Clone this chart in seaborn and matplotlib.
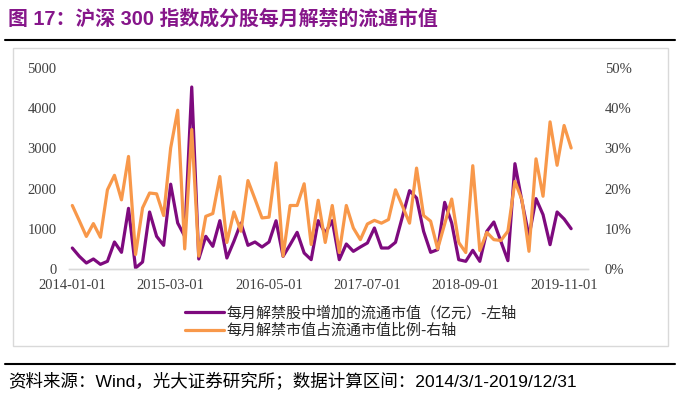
import numpy as np
import pandas as pd
import matplotlib
matplotlib.use("Agg")
import matplotlib.pyplot as plt
import seaborn as sns
from matplotlib.lines import Line2D
from matplotlib.patches import Rectangle
from matplotlib.ticker import FuncFormatter

# === DATA ===
months = pd.date_range("2014-01-01", "2019-12-01", freq="MS").strftime("%Y-%m-%d").tolist()

# 每月解禁股中增加的流通市值（亿元）
unlock_value = [522, 315, 149, 249, 116, 191, 672, 415, 1509, 25,
                174, 1418, 813, 589, 2110, 1144, 813, 4527, 249, 813,
                564, 1202, 274, 688, 1144, 589, 672, 547, 672, 1200,
                315, 605, 912, 398, 232, 1202, 896, 1202, 232, 622,
                439, 547, 647, 1020, 522, 522, 663, 1310, 1949, 1766,
                937, 415, 481, 1658, 1144, 232, 191, 464, 191, 937,
                1169, 688, 207, 2620, 1683, 813, 1750, 1352, 605, 1418,
                1244, 1003]

# 每月解禁市值占流通市值比例（%）
unlock_ratio = [15.8, 12.0, 8.1, 11.3, 7.9, 19.7, 23.3, 17.2, 28.0, 3.6,
                15.2, 18.9, 18.7, 13.3, 30.1, 39.5, 5.0, 34.7, 3.2, 13.1,
                13.8, 23.0, 6.6, 14.2, 9.4, 22.0, 17.4, 12.7, 12.9, 26.4,
                3.2, 15.8, 15.8, 21.2, 6.1, 17.1, 6.6, 15.8, 4.1, 15.8,
                10.2, 7.3, 11.2, 12.1, 11.4, 12.3, 19.7, 15.6, 11.4, 25.1,
                13.3, 11.9, 5.0, 11.2, 17.4, 6.6, 4.1, 25.7, 4.6, 9.1,
                7.3, 7.1, 9.4, 21.8, 17.2, 4.4, 27.4, 18.1, 36.6, 25.8,
                35.7, 30.1]

label_left = "每月解禁股中增加的流通市值（亿元）-左轴"
label_right = "每月解禁市值占流通市值比例-右轴"
title = "图 17：沪深 300 指数成分股每月解禁的流通市值"
source = "资料来源：Wind，光大证券研究所；数据计算区间：2014/3/1-2019/12/31"

df = pd.DataFrame({"month": months, "value": unlock_value, "ratio": unlock_ratio})
df["idx"] = np.arange(len(df))

# === STYLE ===
sns.set_style("white")
plt.rcParams["font.family"] = ["Liberation Serif", "Noto Sans CJK SC"]

PURPLE = "#7E0A7E"
ORANGE = "#F8984A"
W, H = 682, 397

fig = plt.figure(figsize=(W / 100, H / 100), dpi=100)
ax = fig.add_axes([69 / W, 1 - 269 / H, (588 - 69) / W, (269 - 68) / H])
ax2 = ax.twinx()

sns.lineplot(data=df, x="idx", y="value", ax=ax, color=PURPLE, linewidth=2.3, legend=False)
sns.lineplot(data=df, x="idx", y="ratio", ax=ax2, color=ORANGE, linewidth=2.3, legend=False)

ax.set_xlim(-0.47, 73.4)
ax.set_ylim(0, 5000)
ax2.set_ylim(0, 50)
ax.set_yticks(range(0, 5001, 1000))
ax2.set_yticks(range(0, 51, 10))
ax2.yaxis.set_major_formatter(FuncFormatter(lambda v, p: f"{int(v)}%"))

tick_pos = list(range(0, len(months), 14))
ax.set_xticks(tick_pos)
ax.set_xticklabels([months[i] for i in tick_pos])

for a in (ax, ax2):
    a.set_xlabel("")
    a.set_ylabel("")
    for s in a.spines.values():
        s.set_visible(False)
    a.spines["bottom"].set_visible(True)
    a.spines["bottom"].set_color("#d9d9d9")
    a.spines["bottom"].set_linewidth(1.0)
    a.tick_params(length=0, labelsize=10.5, labelcolor="#404040")
ax.tick_params(axis="y", pad=9)
ax2.tick_params(axis="y", pad=12)
ax.tick_params(axis="x", pad=7)

# legend
handles = [Line2D([], [], color=PURPLE, lw=2.3), Line2D([], [], color=ORANGE, lw=2.3)]
fig.legend(handles, [label_left, label_right], loc="center left",
           bbox_to_anchor=(171 / W, 1 - 322 / H), frameon=False,
           prop={"family": ["Noto Sans CJK SC"], "size": 10.8},
           handlelength=2.6, handletextpad=0.2, labelspacing=0.2)

# frame, rules, title, source
fig.add_artist(Rectangle((13 / W, 1 - 346 / H), (668 - 13) / W, (346 - 48) / H,
                         transform=fig.transFigure, fill=False, edgecolor="#d9d9d9", lw=1))
for y in (40, 364):
    fig.add_artist(Line2D([5 / W, 675 / W], [1 - y / H] * 2, color="black", lw=1.5))

fig.text(8 / W, 1 - 19 / H, title, color="#86168A", fontsize=14.3, fontweight="bold",
         va="center", family=["Liberation Sans", "Noto Sans CJK SC"])
fig.text(8 / W, 1 - 380 / H, source, color="black", fontsize=12.6, va="center",
         family=["Liberation Sans", "Noto Sans CJK SC"])

fig.savefig("out.png", dpi=100)
